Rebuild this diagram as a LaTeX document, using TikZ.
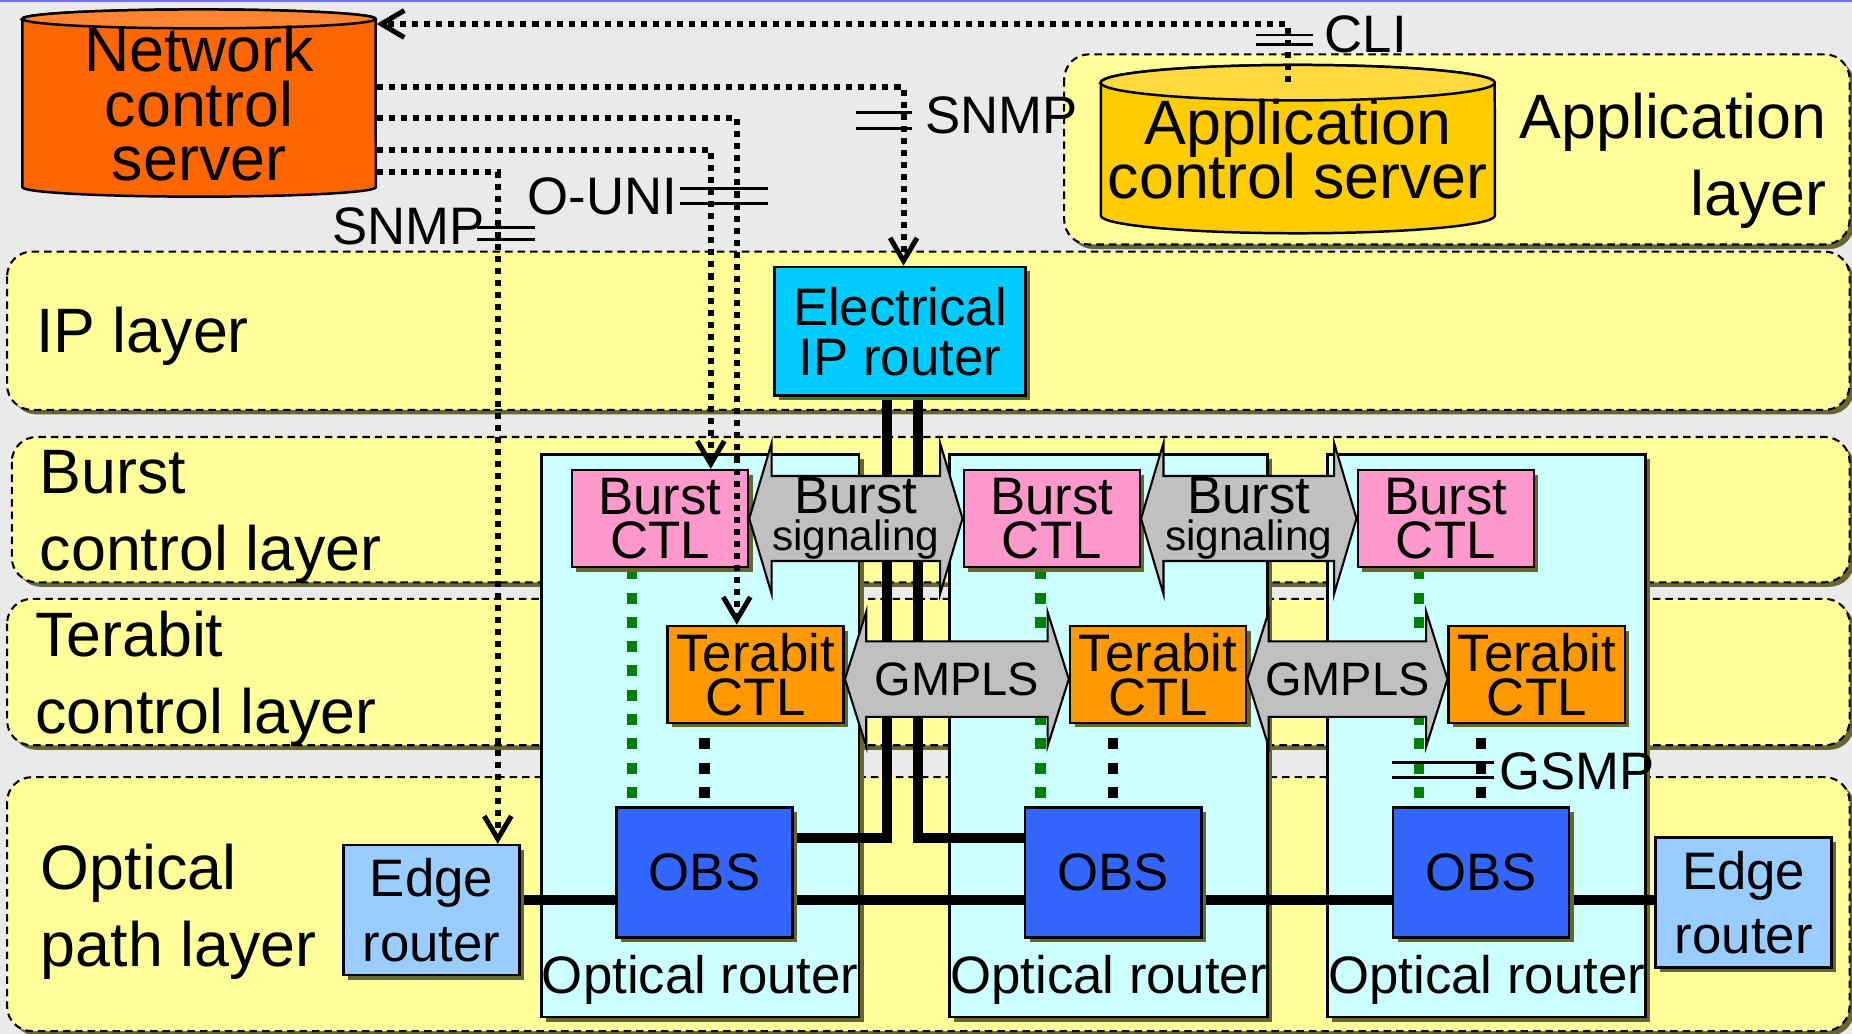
\documentclass[tikz,border=0pt]{standalone}
\usepackage{fontspec}
\setmainfont{Liberation Sans}
\usetikzlibrary{arrows.meta,calc,shadows}
\lineskiplimit=-20pt

\definecolor{slide}{HTML}{EAEAEA}
\definecolor{layer}{HTML}{FFFF99}
\definecolor{shade}{HTML}{666633}
\definecolor{ncsrv}{HTML}{FF6600}
\definecolor{ncsrvtop}{HTML}{FF8533}
\definecolor{acsrv}{HTML}{FFCC00}
\definecolor{acsrvtop}{HTML}{FFD940}
\definecolor{iprt}{HTML}{00CCFF}
\definecolor{optrt}{HTML}{CCFFFF}
\definecolor{burst}{HTML}{FF99CC}
\definecolor{tera}{HTML}{FF9900}
\definecolor{obsc}{HTML}{3366FF}
\definecolor{edgec}{HTML}{99CCFF}
\definecolor{sig}{HTML}{C0C0C0}
\definecolor{gsmpg}{HTML}{008000}

\pgfdeclarelayer{bg}
\pgfdeclarelayer{mid}
\pgfsetlayers{bg,mid,main}

\tikzset{
  shad/.style={drop shadow={shadow xshift=1.1pt,shadow yshift=-1.1pt,fill=shade,opacity=1}},
  lay/.style={fill=layer,draw=black,line width=0.5pt,dash pattern=on 1.8pt off 1.2pt,rounded corners=0.21cm,shad},
  nodebox/.style={draw=black,line width=0.6pt,inner sep=0pt,align=center,shad,font=\fontsize{12.7}{10.7}\selectfont},
  burstbox/.style={nodebox,fill=burst,minimum width=1.49cm,minimum height=0.82cm},
  terabox/.style={nodebox,fill=tera,minimum width=1.49cm,minimum height=0.82cm},
  obsbox/.style={nodebox,fill=obsc,minimum width=1.49cm,minimum height=1.10cm},
  edgebox/.style={nodebox,fill=edgec,minimum width=1.49cm,minimum height=1.10cm,font=\fontsize{12.7}{15.6}\selectfont},
  ipbox/.style={nodebox,fill=iprt,minimum width=2.12cm,minimum height=1.09cm,font=\fontsize{12.7}{12}\selectfont},
  router/.style={draw=black,line width=0.6pt,fill=optrt,minimum width=2.69cm,minimum height=4.76cm,inner sep=0pt,shad},
  lbl/.style={inner sep=0pt,font=\fontsize{12.7}{12}\selectfont},
  laylbl/.style={inner sep=0pt,align=left,font=\fontsize{15.1}{18.5}\selectfont},
  srv/.style={inner sep=0pt,align=center,font=\fontsize{15.1}{13.1}\selectfont},
  sigarrow/.style={fill=sig,draw=black,line width=0.5pt},
  ctrl/.style={line width=1.45pt,dash pattern=on 1.45pt off 1.45pt},
  ctrlarr/.style={ctrl,-{Straight Barb[length=5.5pt,width=6.5pt,line width=1.2pt]}},
  eqbar/.style={line width=0.7pt},
  fiber/.style={line width=2.4pt},
  gdots/.style={draw=gsmpg,line width=2.5pt,dash pattern=on 2.65pt off 3.2pt},
  kdots/.style={line width=2.5pt,dash pattern=on 2.65pt off 3.2pt},
}

% x1, y of top rim, x2, y of bottom rim, y radius, body colour, lid colour
\newcommand\drum[7]{%
  \pgfmathsetmacro\drx{(#3-#1)/200}
  \pgfmathsetmacro\dry{#5/100}
  \draw[line width=0.6pt,fill=#6] (#1,#2) -- (#1,#4)
    arc[start angle=180,end angle=360,x radius=\drx cm,y radius=\dry cm] -- (#3,#2)
    arc[start angle=0,end angle=180,x radius=\drx cm,y radius=\dry cm] -- cycle;
  \draw[line width=0.6pt,fill=#7] ({(#1+#3)/2},#2) ellipse[x radius=\drx cm,y radius=\dry cm];
}

\begin{document}
\begin{tikzpicture}[x=0.01cm,y=-0.01cm]
  \useasboundingbox (0,0) rectangle (1568,875.4);

  \begin{pgfonlayer}{bg}
    \fill[slide] (0,0) rectangle (1568,875.4);
    \draw[blue!55,line width=0.5pt] (0,0.6) -- (1568,0.6);
    % layers
    \draw[lay] (901,46) rectangle (1566,207);
    \draw[lay] (6,213) rectangle (1566,347);
    \draw[lay] (10,370) rectangle (1566,493);
    \draw[lay] (6,507) rectangle (1566,631);
    \draw[lay] (6,658) rectangle (1566,873);
  \end{pgfonlayer}

  \node[laylbl,anchor=east,align=right] (applbl) at (1547,136) {Application\\layer};
  \node[laylbl,anchor=west] (iplbl) at (30,285) {IP layer};
  \node[laylbl,anchor=west] (burstlbl) at (33,438) {Burst\\control layer};
  \node[laylbl,anchor=west] (teralbl) at (29,575) {Terabit\\control layer};
  \node[laylbl,anchor=west] (optlbl) at (34,772) {Optical\\path layer};

  % servers
  \drum{19}{16}{318}{158.5}{8}{ncsrv}{ncsrvtop}
  \node[srv,minimum width=2.99cm,minimum height=1.425cm] (nc) at (168.5,87.75) {Network\\control\\server};
  \drum{932}{70}{1265.5}{182.5}{15}{acsrv}{acsrvtop}
  \node[srv,font=\fontsize{15.1}{12.8}\selectfont,minimum width=3.335cm,minimum height=1.125cm] (acs) at (1098.75,126.25) {Application\\control server};

  \node[ipbox] (eip) at (762,280.5) {Electrical\\IP router};

  \foreach \i/\xr/\xb/\xt/\xo/\xg in {1/592.9/558.75/639.8/596.5/535, 2/938.6/890.5/980.5/942.5/881, 3/1258.7/1224.1/1301.1/1254/1201.5} {
    \begin{pgfonlayer}{bg}
      \node[router] (or\i) at (\xr,623) {};
      \node[lbl] (orl\i) at (\xr,830) {Optical router};
    \end{pgfonlayer}
    \node[burstbox] (bc\i) at (\xb,439) {Burst\\CTL};
    \node[terabox] (tc\i) at (\xt,571) {Terabit\\CTL};
    \node[obsbox] (obs\i) at (\xo,738.5) {OBS};
    \begin{pgfonlayer}{mid}
      \draw[gdots] (bc\i.south -| \xg,0) -- (obs\i.north -| \xg,0);
      \draw[kdots] (obs\i.north |- tc\i.south) ++(0,12) -- (obs\i.north);
    \end{pgfonlayer}
  }

  \node[edgebox] (erl) at (365.4,770.5) {Edge\\router};
  \node[edgebox] (err) at (1476.3,764.3) {Edge\\router};

  % optical paths
  \begin{pgfonlayer}{mid}
    \draw[fiber] ([xshift=-0.11cm]eip.south) |- ([yshift=0.29cm]obs1.east);
    \draw[fiber] ([xshift=0.15cm]eip.south) |- ([yshift=0.29cm]obs2.west);
    \draw[fiber] (erl.east |- 0,762) -- (err.west |- 0,762);
  \end{pgfonlayer}

  % signaling between neighbours
  \foreach \a/\b in {1/2,2/3} {
    \draw[sigarrow] (bc\a.east) -- ++(19,-64) -- ++(0,28) -- ($(bc\b.west)+(-19,-36)$) -- ++(0,-28)
      -- (bc\b.west) -- ++(-19,64) -- ++(0,-28) -- ($(bc\a.east)+(19,36)$) -- ++(0,28) -- cycle;
    \node[inner sep=0pt,align=center,font=\fontsize{12.7}{8.8}\selectfont] (bs\a) at ($(bc\a.east)!0.5!(bc\b.west)$)
      {Burst\\{\fontsize{10.2}{8.8}\selectfont signaling}};
    \draw[sigarrow] ([yshift=-0.04cm]tc\a.east) -- ++(18,-57) -- ++(0,25) -- ($(tc\b.west)+(-18,-28)$) -- ++(0,-25)
      -- ([yshift=-0.04cm]tc\b.west) -- ++(-18,57) -- ++(0,-25) -- ($(tc\a.east)+(18,36)$) -- ++(0,25) -- cycle;
    \node[inner sep=0pt,font=\fontsize{11.3}{11}\selectfont] (gm\a) at ($(tc\a.east)!0.5!(tc\b.west)+(0,4)$) {GMPLS};
  }

  % management and control channels
  \draw[ctrlarr] ([xshift=-0.085cm]acs.north) |- (nc.east |- 0,20.3);
  \draw[ctrlarr] (nc.east |- 0,73.4) -| ([xshift=0.03cm]eip.north);
  \draw[ctrlarr] (nc.east |- 0,100) -| ([xshift=-0.16cm]tc1.north);
  \draw[ctrlarr] (nc.east |- 0,127) -| ([xshift=0.43cm]bc1.north);
  \draw[ctrlarr] (nc.east |- 0,146) -| ([xshift=0.56cm]erl.north);

  \foreach \xa/\xb/\ya/\yb in {1063/1112/29.6/38, 725/772/95/108.5, 576/650/159.5/172, 404/453/193/202.5, 1178.6/1265/645.7/658.3}
    \draw[eqbar] (\xa,\ya) -- (\xb,\ya) (\xa,\yb) -- (\xb,\yb);

  \node[lbl,anchor=west] (cli) at (1121,29) {CLI};
  \node[lbl,anchor=west] (snmpa) at (783,98) {SNMP};
  \node[lbl,anchor=east] (ouni) at (574,166.5) {O-UNI};
  \node[lbl,anchor=east] (snmpb) at (411,192) {SNMP};
  \node[lbl,anchor=west] (gsmp) at (1269,653) {GSMP};
\end{tikzpicture}
\end{document}
